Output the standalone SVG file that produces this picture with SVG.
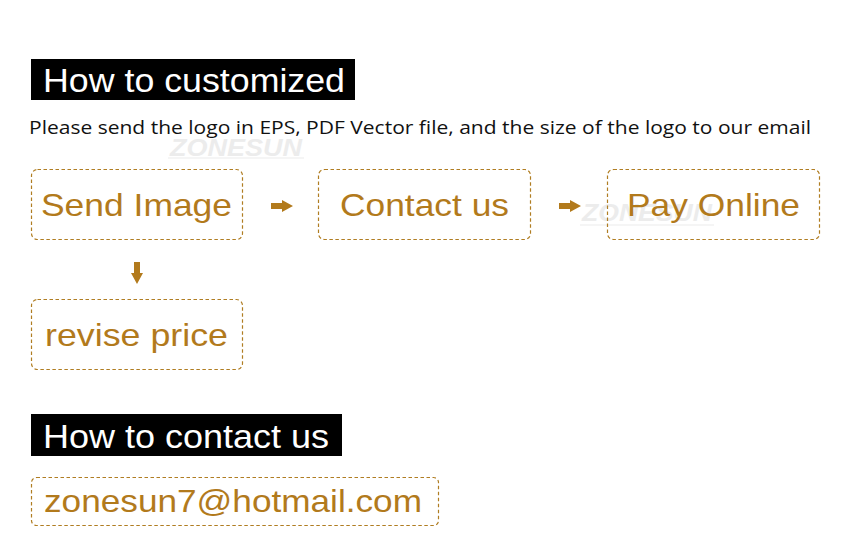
<svg xmlns="http://www.w3.org/2000/svg" width="850" height="536" viewBox="0 0 850 536">
<defs>
<style>
.bar{fill:#000}
.bartxt{fill:#fff;font-family:"Liberation Sans",Arial,sans-serif;font-size:33px}
.sub{fill:#111;font-family:"Open Sans","Noto Sans",sans-serif;font-size:19px}
.box{fill:none;stroke:#b07d22;stroke-width:1.2;stroke-dasharray:3.5 2.5}
.lbl{fill:#b27a1c;font-family:"Liberation Sans",Arial,sans-serif;font-size:32px}
.arr{fill:#b27a1c}
.wm{fill:#ececec;font-family:"Liberation Sans",Arial,sans-serif;font-weight:bold;font-style:italic;font-size:23px}
.wml{stroke:#f2f2f2;stroke-width:1.5}
</style>
<path id="ar" d="M0,-3 H11 V-6 L22,0 L11,6 V3 H0 Z"/>
</defs>
<rect width="850" height="536" fill="#fff"/>
<g id="watermarks">
<text class="wm" x="170" y="156" textLength="132" lengthAdjust="spacingAndGlyphs">ZONESUN</text>
<line class="wml" x1="168" y1="158" x2="304" y2="158"/>
<text class="wm" x="582" y="221" textLength="130" lengthAdjust="spacingAndGlyphs">ZONESUN</text>
<line class="wml" x1="580" y1="225" x2="714" y2="225"/>
</g>
<g id="title1">
<rect class="bar" x="31" y="59" width="324" height="41"/>
<text class="bartxt" x="43" y="92" textLength="302" lengthAdjust="spacingAndGlyphs">How to customized</text>
</g>
<text class="sub" x="29" y="134" textLength="782" lengthAdjust="spacingAndGlyphs">Please send the logo in EPS, PDF Vector file, and the size of the logo to our email</text>
<g id="connectors">
<use href="#ar" class="arr" x="271" y="206"/>
<use href="#ar" class="arr" x="559" y="206"/>
<use href="#ar" class="arr" transform="translate(137,262) rotate(90)"/>
</g>
<g id="send-image">
<rect class="box" x="31.5" y="169.5" width="211" height="70" rx="6"/>
<text class="lbl" x="41" y="216" textLength="191" lengthAdjust="spacingAndGlyphs">Send Image</text>
</g>
<g id="contact-us">
<rect class="box" x="318.5" y="169.5" width="212" height="70" rx="6"/>
<text class="lbl" x="340" y="216" textLength="169" lengthAdjust="spacingAndGlyphs">Contact us</text>
</g>
<g id="pay-online">
<rect class="box" x="607.5" y="169.5" width="212" height="70" rx="6"/>
<text class="lbl" x="627" y="216" textLength="173" lengthAdjust="spacingAndGlyphs">Pay Online</text>
</g>
<g id="revise-price">
<rect class="box" x="31.5" y="299.5" width="211" height="70" rx="6"/>
<text class="lbl" x="45" y="346" textLength="183" lengthAdjust="spacingAndGlyphs">revise price</text>
</g>
<g id="title2">
<rect class="bar" x="31" y="414" width="311" height="42"/>
<text class="bartxt" x="43" y="448" textLength="286" lengthAdjust="spacingAndGlyphs">How to contact us</text>
</g>
<g id="email">
<rect class="box" x="31.5" y="477.5" width="407" height="48" rx="5"/>
<text class="lbl" x="44" y="512" textLength="378" lengthAdjust="spacingAndGlyphs">zonesun7@hotmail.com</text>
</g>
</svg>
